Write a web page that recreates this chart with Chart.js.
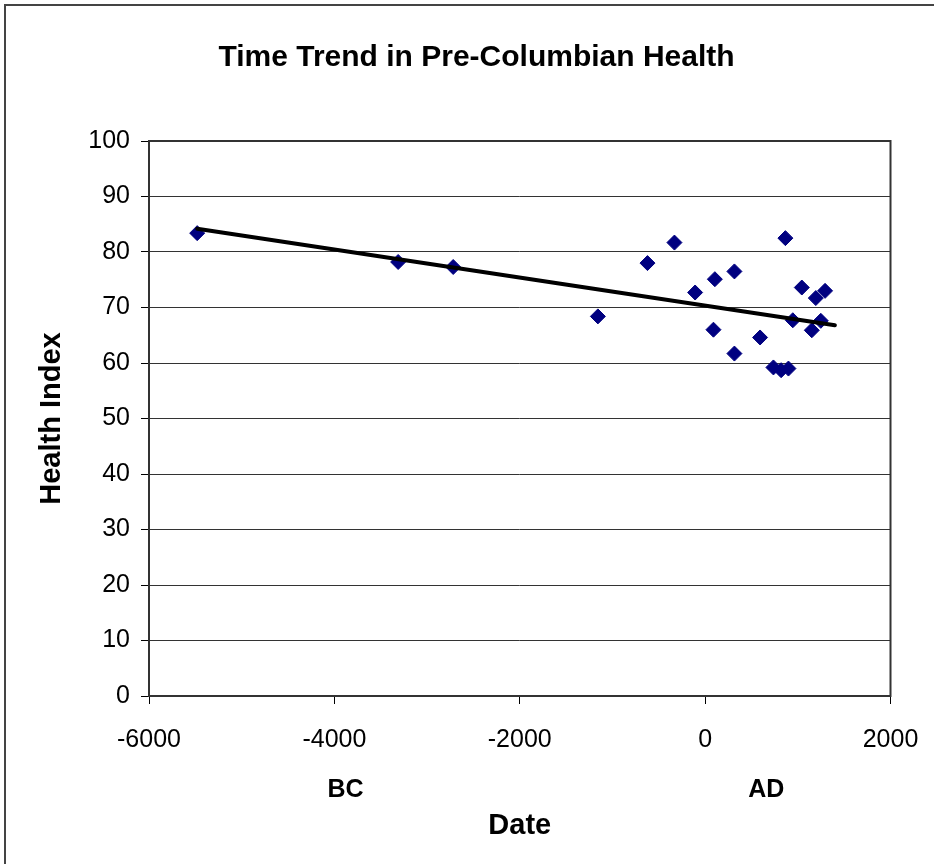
<!DOCTYPE html>
<html>
<head>
<meta charset="utf-8">
<title>Time Trend in Pre-Columbian Health</title>
<script src="https://cdn.jsdelivr.net/npm/chart.js@4.4.0/dist/chart.umd.min.js"></script>
<style>
html, body { margin:0; padding:0; background:#fff; overflow:hidden; }
#frame { position:absolute; left:4px; top:4px; width:1000px; height:1000px; border-left:2px solid #444; border-top:2px solid #444; }
#mycanvas { position:absolute; left:0; top:0; }
</style>
</head>
<body>
<div id="frame"></div>
<canvas id="mycanvas" width="934" height="864"></canvas>
<script>
// site dates (negative = BC) and health index
var dates  = [-5480, -3312, -2718, -1157, -622, -331, -108, 105, 316, 90, 316, 593, 737, 820, 899, 866, 1043, 946, 1194, 1294, 1151, 1248];
var health = [83.4, 78.2, 77.3, 68.4, 78.0, 81.7, 72.7, 75.1, 76.5, 66.0, 61.7, 64.6, 59.2, 58.7, 59.0, 82.5, 73.6, 67.7, 71.7, 73.0, 65.9, 67.6];

// linear trend end points
var trendDates  = [-5480, 1400];
var trendHealth = [84.2, 66.8];

var xTicks = [-6000, -4000, -2000, 0, 2000];
var yTicks = [0, 10, 20, 30, 40, 50, 60, 70, 80, 90, 100];
var eraText = ['BC', 'AD'];

var fontFamily = '"Liberation Sans", Arial, sans-serif';

function toPoints(xs, ys) {
    var pts = [];
    for (var i in xs) {
        pts.push({x: xs[i], y: ys[i]});
    }
    return pts;
}

var plotBox = {
    id: 'plotBox',
    beforeDatasetsDraw: function (chart) {
        var a = chart.chartArea, ctx = chart.ctx;
        ctx.save();
        ctx.strokeStyle = '#333';
        ctx.lineWidth = 2;
        ctx.strokeRect(a.left, a.top, a.right - a.left, a.bottom - a.top);
        ctx.restore();
    }
};

var eraLabels = {
    id: 'eraLabels',
    afterDraw: function (chart) {
        var xs = chart.scales.x, ctx = chart.ctx;
        var at = [-3880, 660];
        ctx.save();
        ctx.font = 'bold 25px ' + fontFamily;
        ctx.fillStyle = '#000';
        ctx.textAlign = 'center';
        ctx.textBaseline = 'middle';
        for (var i in eraText) {
            ctx.fillText(eraText[i], xs.getPixelForValue(at[i]), chart.chartArea.bottom + 94);
        }
        ctx.restore();
    }
};

var chartdata = {
    datasets: [
        {
            label: 'Trend',
            data: toPoints(trendDates, trendHealth),
            showLine: true,
            borderColor: '#000',
            borderWidth: 4,
            borderCapStyle: 'round',
            pointRadius: 0,
            fill: false
        },
        {
            label: 'Health Index',
            data: toPoints(dates, health),
            pointStyle: 'rectRot',
            pointRadius: 7.5,
            pointBackgroundColor: '#000080',
            pointBorderColor: '#000080',
            pointBorderWidth: 1
        }
    ]
};

var ctx = document.getElementById('mycanvas');

var scatter = new Chart(ctx, {
    type: 'scatter',
    data: chartdata,
    plugins: [plotBox, eraLabels],
    options: {
        responsive: false,
        animation: false,
        layout: { padding: { left: 19, right: 0, top: 0, bottom: 0 } },
        plugins: {
            legend: { display: false },
            tooltip: { enabled: false },
            title: {
                display: true,
                text: 'Time Trend in Pre-Columbian Health',
                color: '#000',
                font: { family: fontFamily, size: 30, weight: 'bold' },
                padding: { top: 40, bottom: 65 }
            }
        },
        scales: {
            x: {
                type: 'linear',
                position: 'bottom',
                min: xTicks[0],
                max: xTicks[xTicks.length - 1],
                afterBuildTicks: function (s) { s.ticks = xTicks.map(function (v) { return {value: v}; }); },
                afterFit: function (s) { s.height = 168; },
                ticks: {
                    color: '#000',
                    font: { family: fontFamily, size: 25, lineHeight: 1.68 },
                    padding: 15,
                    maxRotation: 0,
                    callback: function (v) { return String(v); }
                },
                grid: {
                    drawOnChartArea: false,
                    drawTicks: true,
                    tickLength: 8,
                    tickColor: '#000',
                    tickWidth: 1
                },
                border: { display: false },
                title: {
                    display: true,
                    text: 'Date',
                    color: '#000',
                    font: { family: fontFamily, size: 29, weight: 'bold' },
                    padding: { top: 0, bottom: 21 }
                }
            },
            y: {
                min: yTicks[0],
                max: yTicks[yTicks.length - 1],
                afterBuildTicks: function (s) { s.ticks = yTicks.map(function (v) { return {value: v}; }); },
                afterFit: function (s) { s.width = 130; },
                ticks: {
                    color: '#000',
                    font: { family: fontFamily, size: 25 },
                    padding: 11,
                    callback: function (v) { return String(v); }
                },
                grid: {
                    color: '#333',
                    lineWidth: 1,
                    tickLength: 8,
                    tickColor: '#000',
                    tickWidth: 1
                },
                border: { display: false },
                title: {
                    display: true,
                    text: 'Health Index',
                    color: '#000',
                    font: { family: fontFamily, size: 29, weight: 'bold' },
                    padding: { top: 16, bottom: 0 }
                }
            },
            // empty right-hand spacer so the plot ends where the reference does
            yRight: {
                position: 'right',
                min: yTicks[0],
                max: yTicks[yTicks.length - 1],
                afterFit: function (s) { s.width = 43.5; },
                ticks: { display: false },
                grid: { display: false, drawOnChartArea: false },
                border: { display: false }
            }
        }
    }
});
</script>
</body>
</html>
